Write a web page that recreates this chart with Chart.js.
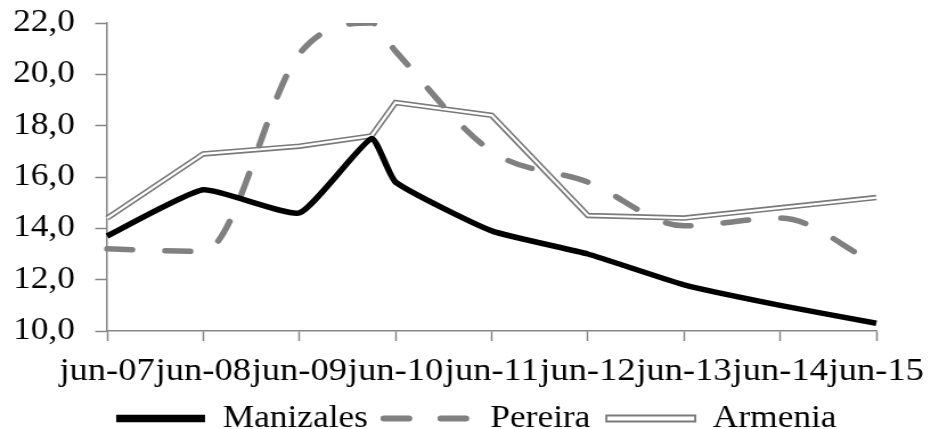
<!DOCTYPE html>
<html>
<head>
<meta charset="utf-8">
<script src="https://cdn.jsdelivr.net/npm/chart.js@4.4.1/dist/chart.umd.min.js"></script>
<style>
body{margin:0;background:#fff;overflow:hidden}
</style>
</head>
<body>
<canvas id="grafico" width="817" height="429" style="width:931px;height:429px;display:block"></canvas>
<script>
// trimestres del eje x (solo se rotulan los de junio)
const trimestres = ['jun-07','sep-07','dic-07','mar-08','jun-08','sep-08','dic-08','mar-09',
  'jun-09','sep-09','dic-09','mar-10','jun-10','sep-10','dic-10','mar-11',
  'jun-11','sep-11','dic-11','mar-12','jun-12','sep-12','dic-12','mar-13',
  'jun-13','sep-13','dic-13','mar-14','jun-14','sep-14','dic-14','mar-15','jun-15'];
const etiquetasX = ['jun-07','jun-08','jun-09','jun-10','jun-11','jun-12','jun-13','jun-14','jun-15'];
const etiquetasY = ['10,0','12,0','14,0','16,0','18,0','20,0','22,0'];

// periodos con dato
const periodos = ['jun-07','jun-08','jun-09','mar-10','jun-10','jun-11','jun-12','jun-13','jun-14','jun-15'];
const manizales = [13.7, 15.5, 14.6, 17.5, 15.8, 13.9, 13.0, 11.8, 11.0, 10.3];
const pereira   = [13.2, 13.1, 20.8, 22.0, 20.9, 17.0, 15.8, 14.1, 14.4, 12.6];
const armenia   = [14.4, 16.9, 17.2, 17.6, 18.9, 18.4, 14.5, 14.4, 14.8, 15.2];

const gris = '#868686';

function puntos(serie){
  return periodos.map(function(p, i){ return {x: p, y: serie[i]}; });
}

Chart.defaults.font.family = "'Liberation Serif', 'Times New Roman', serif";
Chart.defaults.font.size = 31;
Chart.defaults.color = '#000';

const data = {
  labels: trimestres,
  datasets: [{
    label: 'Manizales',
    data: puntos(manizales),
    borderColor: '#000',
    backgroundColor: '#000',
    borderWidth: 5.5,
    tension: 0.15,
    order: 0
  }, {
    label: 'Pereira',
    data: puntos(pereira),
    borderColor: '#808080',
    backgroundColor: '#808080',
    borderWidth: 5.5,
    borderDash: [22, 29],
    borderCapStyle: 'round',
    cubicInterpolationMode: 'monotone',
    order: 1
  }, {
    label: 'Armenia',
    data: puntos(armenia),
    borderColor: '#fff',
    borderWidth: 2.2,
    tension: 0,
    order: 2
  }, {
    label: 'Armenia_borde',
    data: puntos(armenia),
    borderColor: '#7a7a7a',
    borderWidth: 5.5,
    tension: 0,
    order: 3
  }]
};

const config = {
  type: 'line',
  data: data,
  options: {
    responsive: false,
    animation: false,
    devicePixelRatio: 1,
    elements: { point: { radius: 0 } },
    layout: { padding: { left: 0, right: -19, top: 23, bottom: -15 } },
    plugins: {
      tooltip: { enabled: false },
      legend: {
        position: 'bottom',
        labels: {
          usePointStyle: true,
          pointStyleWidth: 78,
          boxHeight: 6,
          padding: 14,
          generateLabels: function(chart){
            return [
              {text: 'Manizales', pointStyle: 'line', strokeStyle: '#000', fillStyle: '#000', lineWidth: 7.5, datasetIndex: 0},
              {text: 'Pereira', pointStyle: 'line', strokeStyle: '#808080', fillStyle: '#808080', lineWidth: 6, lineDash: [22, 28], lineCap: 'round', datasetIndex: 1},
              {text: 'Armenia', pointStyle: 'rect', strokeStyle: '#7a7a7a', fillStyle: '#fff', lineWidth: 1.8, datasetIndex: 2}
            ];
          }
        }
      }
    },
    scales: {
      x: {
        type: 'category',
        grid: {
          drawOnChartArea: false,
          tickLength: 10,
          tickWidth: 1.5,
          tickColor: function(ctx){
            return etiquetasX.includes(trimestres[ctx.index]) ? gris : 'rgba(0,0,0,0)';
          }
        },
        border: { color: gris, width: 1.5 },
        ticks: {
          autoSkip: false,
          maxRotation: 0,
          minRotation: 0,
          padding: 11,
          font: { size: 32 },
          callback: function(v, i){
            const t = trimestres[i];
            return etiquetasX.includes(t) ? t : '';
          }
        },
        afterFit: function(scale){
          scale.height = 58;
          scale.paddingRight = 48;
        }
      },
      y: {
        min: 10,
        max: 22,
        ticks: {
          stepSize: 2,
          padding: 17.7,
          callback: function(v, i){ return etiquetasY[i]; }
        },
        grid: { drawOnChartArea: false, tickLength: 10.5, tickWidth: 1.5, color: gris },
        border: { color: gris, width: 1.5 },
        afterFit: function(scale){
          scale.width = 94;
          scale.paddingTop = 0;
          scale.paddingBottom = 0;
        }
      }
    }
  }
};

const grafico = new Chart(document.getElementById('grafico'), config);
</script>
</body>
</html>
